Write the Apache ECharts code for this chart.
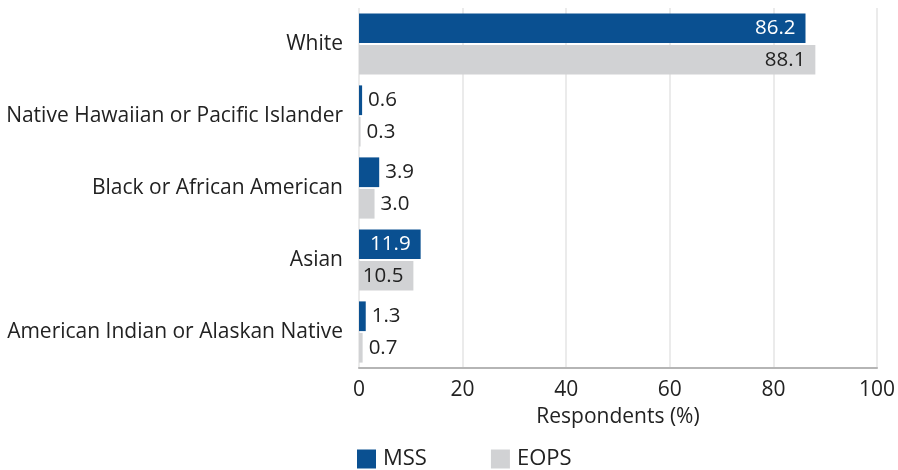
<!DOCTYPE html>
<html><head><meta charset="utf-8">
<script src="https://cdn.jsdelivr.net/npm/echarts@6/dist/echarts.min.js"></script>
<style>html,body{margin:0;padding:0;background:#fff}#c{width:898px;height:470px}</style>
</head><body><div id="c"></div>
<script>
const categories = ["American Indian or Alaskan Native", "Asian", "Black or African American", "Native Hawaiian or Pacific Islander", "White"];
const mss = [1.3, 11.9, 3.9, 0.6, 86.2];
const eops = [0.7, 10.5, 3.0, 0.3, 88.1];
const xTicks = [0, 20, 40, 60, 80, 100];

const FONT = "Open Sans";
const FS = 20.5;
function mk(vals, insideColor) {
  return vals.map(v => ({
    value: v,
    label: v > 8 ? {position: 'insideRight', color: insideColor, distance: 10} : {position: 'right', color: '#222', distance: 6}
  }));
}
const chart = echarts.init(document.getElementById('c'));
chart.setOption({
  animation: false,
  textStyle: {fontFamily: FONT},
  grid: {left: 359, right: 17, top: 8, bottom: 102, containLabel: false},
  legend: {
    left: 352, top: 443, itemWidth: 19, itemHeight: 19, itemGap: 64,
    icon: 'rect',
    textStyle: {fontSize: 22, color: '#222', fontFamily: FONT, padding: [0, 0, 0, 2]},
    data: ['MSS', 'EOPS']
  },
  xAxis: {
    type: 'value', min: xTicks[0], max: xTicks[xTicks.length - 1], interval: 20,
    name: 'Respondents (%)', nameLocation: 'middle', nameGap: 39,
    nameTextStyle: {fontSize: 21, color: '#222', fontFamily: FONT},
    axisLine: {show: true, lineStyle: {color: '#b5b5b5', width: 2}},
    axisTick: {show: false},
    axisLabel: {fontSize: 21, color: '#222', margin: 12, fontFamily: FONT},
    splitLine: {show: true, lineStyle: {color: '#ebebeb', width: 2}}
  },
  yAxis: {
    type: 'category', data: categories,
    axisLine: {show: false}, axisTick: {show: false},
    axisLabel: {fontSize: 21, color: '#222', margin: 16, fontFamily: FONT}
  },
  series: [
    {name: 'MSS', type: 'bar', data: mk(mss, '#fff'), itemStyle: {color: '#0a5091'},
     barGap: '6%', barCategoryGap: '15%',
     label: {show: true, fontSize: FS, fontFamily: FONT, formatter: p => p.value.toFixed(1)}},
    {name: 'EOPS', type: 'bar', data: mk(eops, '#222'), itemStyle: {color: '#d1d2d4'},
     barGap: '6%', barCategoryGap: '15%',
     label: {show: true, fontSize: FS, fontFamily: FONT, formatter: p => p.value.toFixed(1)}}
  ]
});
</script></body></html>
